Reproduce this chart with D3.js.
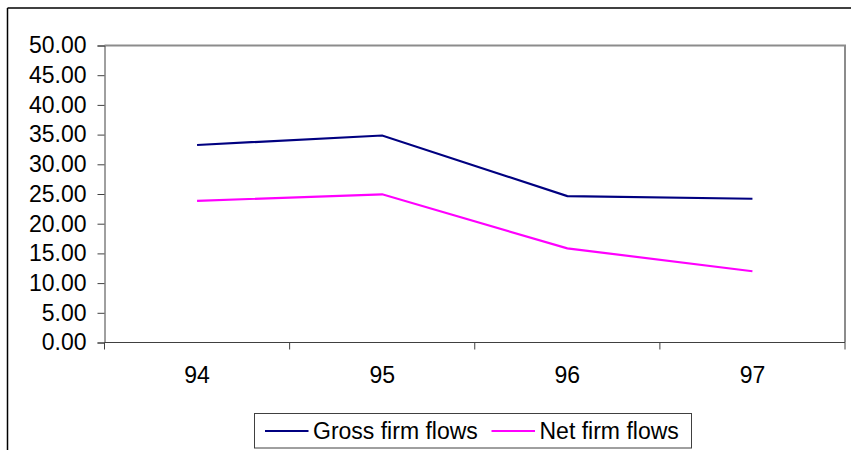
<!DOCTYPE html>
<html>
<head>
<meta charset="utf-8">
<script src="https://cdn.jsdelivr.net/npm/d3@7"></script>
<style>
  html, body { margin: 0; padding: 0; background: #fff; }
  svg { display: block; }
  text { font-family: "Liberation Sans", Arial, sans-serif; fill: #000; }
</style>
</head>
<body>
<svg id="chart" width="851" height="450"></svg>
<script>
// Years on the category axis
const years = ["94", "95", "96", "97"];
// Series values (percent)
const grossFlows = [33.25, 34.85, 24.65, 24.2];
const netFlows = [23.85, 24.95, 15.85, 12.0];
// Value-axis ticks
const yTicks = [0, 5, 10, 15, 20, 25, 30, 35, 40, 45, 50];

const seriesList = [
  { name: "Gross firm flows", values: grossFlows, color: "#000080" },
  { name: "Net firm flows", values: netFlows, color: "#FF00FF" }
];

const svg = d3.select("#chart");
const plot = { left: 104.5, right: 845, top: 45.5, bottom: 342.5 };
const fontSize = "23px";

const x = d3.scaleBand().domain(years).range([plot.left, plot.right]).padding(0);
const y = d3.scaleLinear().domain([0, 50]).range([plot.bottom, plot.top]);

// Outer frame (top and left edges)
svg.append("line").attr("x1", 7.5).attr("x2", 851).attr("y1", 8).attr("y2", 8)
  .attr("stroke", "#000").attr("stroke-width", 1.5);
svg.append("line").attr("x1", 7.5).attr("x2", 7.5).attr("y1", 8).attr("y2", 450)
  .attr("stroke", "#000").attr("stroke-width", 1.5);

// Plot area border: top and right in grey
svg.append("path")
  .attr("d", `M${plot.left},${plot.top}H${plot.right}V${plot.bottom}`)
  .attr("fill", "none").attr("stroke", "#8c8c8c").attr("stroke-width", 2);

// Y axis
const yAxis = svg.append("g")
  .attr("transform", `translate(${plot.left},0)`)
  .call(d3.axisLeft(y).tickValues(yTicks).tickFormat(d3.format(".2f")).tickSize(7).tickPadding(11));
yAxis.select(".domain").attr("stroke", "#404040");
yAxis.selectAll(".tick line").attr("stroke", "#404040");
yAxis.selectAll(".tick text")
  .style("font-family", "'Liberation Sans', Arial, sans-serif")
  .style("font-size", fontSize).attr("fill", "#000");

// X axis: labels at category centers, ticks at category boundaries
const xAxis = svg.append("g")
  .attr("transform", `translate(0,${plot.bottom})`)
  .call(d3.axisBottom(x).tickSize(0).tickPadding(0));
xAxis.select(".domain").attr("stroke", "#404040").attr("d", `M${plot.left},0H${plot.right}`);
xAxis.selectAll(".tick text")
  .attr("dy", 0).attr("y", 40)
  .style("font-family", "'Liberation Sans', Arial, sans-serif")
  .style("font-size", fontSize).attr("fill", "#000");
const edges = years.map(d => x(d)).concat([x.range()[1]]);
xAxis.selectAll("line.edge").data(edges).join("line")
  .attr("class", "edge")
  .attr("x1", d => d).attr("x2", d => d)
  .attr("y1", 0).attr("y2", 7)
  .attr("stroke", "#404040");

// Series lines
const line = d3.line()
  .x((d, i) => x(years[i]) + x.bandwidth() / 2)
  .y(d => y(d));
svg.selectAll("path.series").data(seriesList).join("path")
  .attr("class", "series")
  .attr("d", s => line(s.values))
  .attr("fill", "none")
  .attr("stroke", s => s.color)
  .attr("stroke-width", 2.2)
  .attr("stroke-linejoin", "miter");

// Legend
const legend = svg.append("g");
legend.append("rect")
  .attr("x", 254.5).attr("y", 413.5).attr("width", 437).attr("height", 34.5)
  .attr("fill", "#fff").attr("stroke", "#404040").attr("stroke-width", 1);
const legendX = [265, 491.5];
seriesList.forEach((s, i) => {
  legend.append("line")
    .attr("x1", legendX[i]).attr("x2", legendX[i] + 43.5)
    .attr("y1", 431).attr("y2", 431)
    .attr("stroke", s.color).attr("stroke-width", 2);
  legend.append("text")
    .attr("x", legendX[i] + 48).attr("y", 439)
    .style("font-size", fontSize)
    .text(s.name);
});
</script>
</body>
</html>
